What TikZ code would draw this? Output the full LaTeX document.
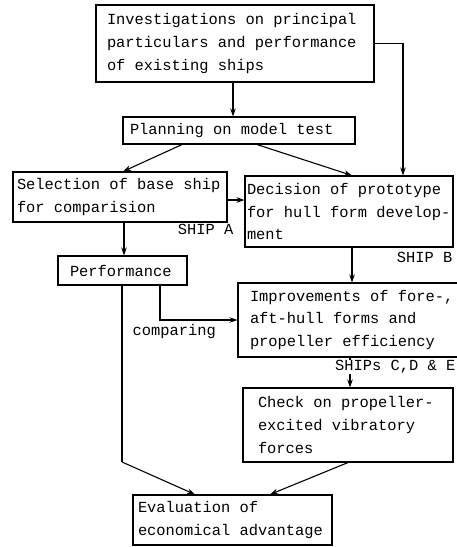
\documentclass[tikz,border=0pt]{standalone}
\usepackage{fontspec}
\setmainfont{Liberation Mono}[WordSpace={1,0,0}]
\usetikzlibrary{arrows.meta}
\begin{document}
\begin{tikzpicture}[x=1pt,y=-1pt,
  box/.style={draw,line width=1.1pt,rectangle,align=flush left,inner ysep=0pt,
    font=\fontsize{15.4}{22.8}\selectfont},
  lbl/.style={inner sep=0.5pt,font=\fontsize{15.4}{18}\selectfont},
  arr/.style={line width=1.1pt,-{Stealth[length=8pt,width=5.5pt]}},
  ln/.style={line width=1.1pt}]
\useasboundingbox (0,0) rectangle (456,547);
% boxes: center, size, left text inset
\node[box,minimum width=278pt,minimum height=77pt,inner xsep=11pt,text width=256pt] (inv) at (235,43.5)
  {Investigations on principal\\particulars and performance\\of existing ships};
\node[box,minimum width=232pt,minimum height=27pt,inner xsep=7pt,text width=218pt] (plan) at (239,130.5)
  {Planning on model test};
\node[box,minimum width=214pt,minimum height=50pt,inner xsep=4pt,text width=206pt] (sel) at (120,197)
  {Selection of base ship\\for comparision};
\node[box,minimum width=208pt,minimum height=71pt,inner xsep=2pt,text width=204pt] (dec) at (349,211.5)
  {Decision of prototype\\for hull form develop-\\ment};
\node[box,minimum width=129pt,minimum height=29pt,inner xsep=12pt,text width=105pt] (perf) at (122.5,270.5)
  {Performance};
\node[box,minimum width=232pt,minimum height=74pt,inner xsep=12pt,text width=208pt] (imp) at (354,320)
  {Improvements of fore-,\\aft-hull forms and\\propeller efficiency};
\node[box,minimum width=210pt,minimum height=74pt,inner xsep=15pt,text width=180pt] (chk) at (348,425)
  {Check on propeller-\\excited vibratory\\forces};
\node[box,minimum width=199pt,minimum height=50pt,inner xsep=5pt,text width=189pt] (eva) at (232.5,520)
  {Evaluation of\\economical advantage};
% connectors
\coordinate (bend) at (122,462);
\draw[arr] (inv.south -| 233,0) -- (plan.north -| 233,0);
\draw[arr] (inv.east) -| (dec.north -| 403,0);
\draw[arr] (plan.south -| 182,0) -- (sel.north -| 123,0);
\draw[arr] (plan.south -| 257,0) -- (dec.north -| 352,0);
\draw[arr] (sel.east |- 0,200) -- (dec.west |- 0,200);
\draw[arr] (sel.south -| 124,0) -- (perf.north -| 124,0);
\draw[arr] (dec.south -| 352,0) -- (imp.north -| 352,0);
\draw[arr] (perf.south -| 160,0) |- (imp.west);
\draw[ln] (perf.south -| 122,0) -- (bend);
\draw[arr] (bend) -- (eva.north -| 195,0);
\draw[arr] (imp.south -| 350,0) -- (chk.north -| 350,0);
\draw[arr] (chk.south -| 348,0) -- (eva.north -| 270,0);
% labels
\node[lbl,anchor=east] (shipa) at (234,229) {SHIP A};
\node[lbl,anchor=east] (shipb) at (453,257) {SHIP B};
\node[lbl,anchor=east,fill=white] (shipc) at (456,367) {SHIPs C,D \& E};
\node[lbl,anchor=west] (cmp) at (132,332) {comparing};
\end{tikzpicture}
\end{document}
